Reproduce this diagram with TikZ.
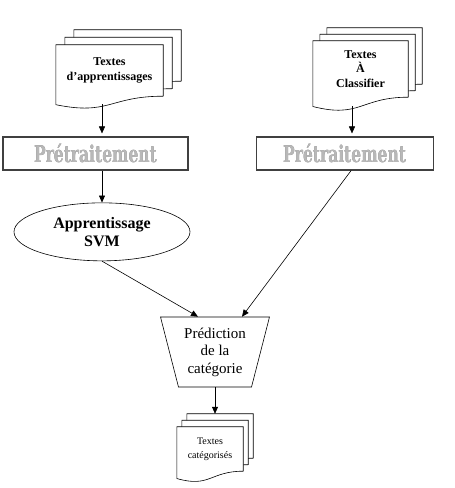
\documentclass[tikz,border=0pt]{standalone}
\usepackage{fontspec}
\usepackage[outline]{contour}
\setmainfont{Liberation Serif}
\newfontfamily\slabfont{DejaVu Serif Condensed}
\usetikzlibrary{shapes.geometric,arrows.meta,positioning,calc,backgrounds}

% one sheet of a document stack, drawn round node #1 shifted by (#2,#3)
\newcommand\docsheet[3]{%
  \draw[sheet] let \p1=([shift={(#2,#3)}]#1.north west),
                   \p2=([shift={(#2,#3)}]#1.south east) in
    (\x1,\y1) -- (\x2,\y1) -- (\x2,\y2)
    .. controls ({0.5*\x1+0.5*\x2},\y2) and ({0.5*\x1+0.5*\x2},{\y2-0.38*(\y1-\y2)})
    .. (\x1,{\y2-0.165*(\y1-\y2)}) -- cycle;}
\newcommand\docstack[3]{%
  \begin{scope}[on background layer]
    \docsheet{#1}{2*#2}{2*#3}
    \docsheet{#1}{#2}{#3}
    \docsheet{#1}{0}{0}
  \end{scope}}
\contourlength{0.5pt}
\newcommand\pretrait{{\slabfont\bfseries\fontsize{23}{23}\selectfont
  \scalebox{0.75}[1]{\contour{black!55}{\color{black!28}Prétraitement}}}}

\begin{document}
\begin{tikzpicture}[
  x=1pt, y=1pt,
  sheet/.style    = {draw, fill=white, line width=0.6pt},
  docfront/.style = {inner sep=0pt, align=center},
  prebox/.style   = {draw=black!75, line width=1.1pt,
                     minimum height=33pt, inner sep=0pt},
  arr/.style      = {-{Triangle[length=7pt,width=6pt]}, line width=0.6pt},
]
\useasboundingbox (0,0) rectangle (455,488);

% input documents
\node[docfront, minimum width=107pt, minimum height=51pt,
      font=\fontsize{12}{15}\selectfont\bfseries]
     (docL) at (109.5,417.5) {Textes\\d’apprentissages};
\node[docfront, minimum width=95pt, minimum height=56pt,
      font=\fontsize{12}{14.5}\selectfont\bfseries]
     (docR) at (360.5,419) {Textes\\À\\Classifier};
\docstack{docL}{9}{7.5}
\docstack{docR}{7}{6.5}

% preprocessing
\node[prebox, minimum width=185pt] (preL) at (95.5,334.5) {\pretrait};
\node[prebox, minimum width=177pt, right=67pt of preL] (preR) {\pretrait};

\node[draw, ellipse, line width=0.6pt, minimum width=176pt,
      minimum height=58pt, inner sep=0pt, align=center,
      font=\fontsize{16}{18}\selectfont\bfseries,
      below=32pt of preL, xshift=6.5pt] (svm) {Apprentissage\\SVM};

\node[draw, trapezium, trapezium stretches body, shape border rotate=180,
      trapezium left angle=72, trapezium right angle=72,
      minimum width=109pt, minimum height=70pt, inner xsep=1pt,
      line width=0.6pt, align=center,
      font=\fontsize{15}{17.5}\selectfont]
     (pred) at (215,136) {Prédiction\\de la\\catégorie};

% output documents
\node[docfront, minimum width=66pt, minimum height=44pt,
      font=\fontsize{10}{14}\selectfont]
     (docB) at (210,39) {Textes\\catégorisés};
\docstack{docB}{5}{6.5}

\coordinate (docLbot) at ([yshift=-8.3pt]docL.south);
\coordinate (docRbot) at ([xshift=-8.5pt,yshift=-9pt]docR.south);
\coordinate (docBtop) at ([yshift=13pt]docB.north);

\draw[arr, shorten >=3pt] (docLbot -| svm) -- (preL.north -| svm);
\draw[arr, shorten >=3pt] (docRbot) -- (docRbot |- preR.north);
\draw[arr] (preL.south -| svm) -- (svm.north);
\draw[arr] (svm.south) -- ([xshift=-17pt]pred.north);
\draw[arr] ([xshift=6.5pt]preR.south) -- ([xshift=27pt]pred.north);
\draw[arr] (pred.south) -- (pred.south |- docBtop);
\end{tikzpicture}
\end{document}
